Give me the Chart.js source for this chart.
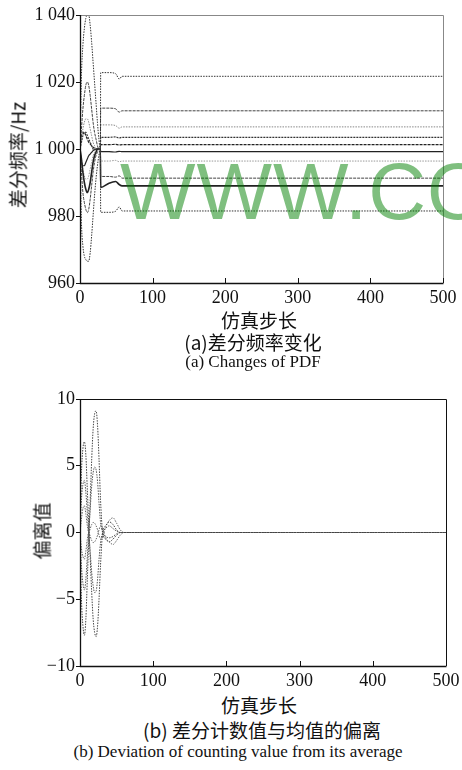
<!DOCTYPE html>
<html>
<head>
<meta charset="utf-8">
<script src="https://cdn.jsdelivr.net/npm/chart.js@4.4.1/dist/chart.umd.min.js"></script>
<style>
  body { margin:0; width:462px; height:770px; position:relative; overflow:hidden; background:#fff; }
  .box { position:absolute; left:0; width:462px; }
  .txt { position:absolute; white-space:nowrap; transform:translate(-50%,-50%); color:#111; }
  .cjk { font-family:"Noto Sans CJK SC", sans-serif; font-size:19px; }
  .en { font-family:"Liberation Serif", serif; font-size:17px; }
  #mark { position:absolute; left:120px; top:152px; font-family:"Liberation Sans", sans-serif;
          font-size:80px; line-height:80px; color:rgba(0,128,0,0.5); letter-spacing:1px; white-space:nowrap; z-index:5; }
</style>
</head>
<body>
<div class="box" style="top:0;height:310px"><canvas id="chartA"></canvas></div>
<div class="box" style="top:385px;height:305px"><canvas id="chartB"></canvas></div>

<div class="txt cjk" style="left:17px;top:155px;transform:translate(-50%,-50%) rotate(-90deg)">差分频率/Hz</div>
<div class="txt cjk" style="left:259px;top:319px">仿真步长</div>
<div class="txt cjk" style="left:253px;top:341px">(a)差分频率变化</div>
<div class="txt en" style="left:253px;top:362px">(a) Changes of PDF</div>

<div class="txt cjk" style="left:41px;top:531px;transform:translate(-50%,-50%) rotate(-90deg)">偏离值</div>
<div class="txt cjk" style="left:259px;top:704px">仿真步长</div>
<div class="txt cjk" style="left:262px;top:729px">(b) 差分计数值与均值的偏离</div>
<div class="txt en" style="left:238px;top:752px">(b) Deviation of counting value from its average</div>

<div id="mark">WWW.CO</div>

<script>
// (a) 差分频率 — simulation steps and values per node
const stepsA = [0, 2, 4, 6, 8, 10, 12, 14, 16, 18, 20, 22, 24, 26, 28, 28.5, 40, 49, 54, 58, 500];
const pdf1  = [1000, 1022, 1031, 1036, 1039, 1040, 1040, 1037, 1032, 1026, 1020, 1014, 1008, 1003, 1000, 1022.8, 1022.8, 1022.5, 1020.9, 1021.7, 1021.7];
const pdf2  = [1000, 978, 971, 968, 967, 966.5, 966.5, 969, 974, 980, 986, 991, 995, 998, 1000, 981.1, 981.1, 981.4, 982.7, 981.5, 981.5];
const pdf3  = [1000, 1006, 1012, 1016, 1019, 1020, 1019, 1016, 1012, 1008, 1005, 1003, 1001, 1000, 1000, 1012.2, 1012.2, 1012, 1011, 1011.4, 1011.4];
const pdf4  = [1000, 993, 987, 984, 982, 981, 982, 985, 989, 993, 996, 998, 999, 1000, 1000, 991.8, 991.8, 991.6, 992, 991.3, 991.3];
const pdf5  = [1000, 997, 993, 990, 988, 987, 988, 990, 993, 996, 998, 999, 1000, 1000, 1000, 988.5, 989.8, 990.3, 989.4, 989, 989];
const pdf6  = [1000, 1003, 1006, 1008, 1009, 1009, 1008, 1006, 1004, 1002, 1001, 1000, 1000, 1000, 1000, 1007.2, 1007.2, 1007, 1006.2, 1006.6, 1006.6];
const pdf7  = [1000, 1002, 1004, 1005, 1005, 1004, 1003, 1002, 1001, 1000, 1000, 1000, 1000, 1000, 1000, 1003.5, 1003.5, 1003.6, 1003.3, 1003.5, 1003.5];
const pdf8  = [1001, 1004, 1005, 1005, 1004, 1003, 1002, 1001.5, 1001, 1000.5, 1000.3, 1000, 1000, 1000, 1000, 1001.3, 1001.3, 1001.4, 1001.2, 1001.3, 1001.3];
const pdf9  = [999, 996, 995, 995, 996, 997, 998, 998.5, 999, 999.5, 999.8, 1000, 1000, 1000, 1000, 999.2, 999.2, 999.1, 999.3, 999.2, 999.2];
const pdf10 = [1000, 997, 994, 992, 991, 991, 992, 994, 996, 998, 999, 1000, 1000, 1000, 1000, 996.4, 996.4, 996.6, 996.2, 996.4, 996.4];
const ticksA = [960, 980, 1000, 1020, 1040];

// (b) 偏离值 — deviation of counting value from its average
const stepsB = [0, 2, 4, 6, 8, 10, 12, 14, 16, 18, 20, 22, 24, 26, 28, 31, 35, 40, 45, 50, 55, 60, 500];
const dev1 = [0, 4.5, 6.3, 6.8, 5.8, 3.2, 0.5, -2, -4.5, -6.5, -7.5, -7.8, -7, -5, -2.5, 0, 0.5, 0.8, 0.6, 0.2, 0, 0, 0];
const dev2 = [0, -5, -7, -7.7, -6.5, -3.5, -0.5, 2.5, 5.5, 7.8, 8.9, 9.1, 8, 5.5, 2.5, 0, -0.5, -0.7, -0.5, -0.2, 0, 0, 0];
const dev3 = [0, 2.5, 3.6, 3.9, 3, 1.5, 0, -1.5, -3, -4, -4.5, -4.4, -3.5, -2, -0.8, 0, 0.3, 0.5, 0.3, 0.1, 0, 0, 0];
const dev4 = [0, -2.5, -3.8, -4.3, -3.5, -1.8, 0, 1.8, 3.5, 4.5, 4.9, 4.7, 3.8, 2.2, 0.8, 0, -0.3, -0.4, -0.3, -0.1, 0, 0, 0];
const dev5 = [0, 1, 1.8, 2, 1.4, 0.5, 0, 0.3, 0.6, 0.75, 0.7, 0.5, 0.2, -0.2, -0.5, -0.3, 0.4, 0.9, 1.1, 0.7, 0.2, 0, 0];
const dev6 = [0, -1.2, -1.8, -2, -1.4, -0.5, 0, -0.3, -0.6, -0.75, -0.7, -0.5, -0.2, 0.2, 0.5, 0.3, -0.4, -0.7, -0.9, -0.6, -0.2, 0, 0];
const ticksB = [-10, -5, 0, 5, 10];

const xTicks = [0, 100, 200, 300, 400, 500];

function pts(xs, ys) {
    return xs.map((x, i) => ({x: x, y: ys[i]}));
}

function line(xs, ys, color, width, dash) {
    return {
        data: pts(xs, ys),
        borderColor: color,
        borderWidth: width,
        borderDash: dash,
        pointRadius: 0,
        cubicInterpolationMode: 'monotone',
        fill: false
    };
}

// box round the plot and inward x ticks
const framePlugin = {
    id: 'frame',
    afterDatasetsDraw(chart, args, opts) {
        const ctx = chart.ctx;
        const a = chart.chartArea;
        const x = chart.scales.x;
        ctx.save();
        ctx.lineWidth = 1;
        ctx.strokeStyle = opts.farColor;
        ctx.beginPath();
        ctx.moveTo(a.left, a.top + 0.5);
        ctx.lineTo(a.right + 0.5, a.top + 0.5);
        ctx.lineTo(a.right + 0.5, a.bottom);
        ctx.stroke();
        ctx.strokeStyle = '#111';
        ctx.lineWidth = 1.3;
        ctx.beginPath();
        ctx.moveTo(a.left + 0.5, a.top);
        ctx.lineTo(a.left + 0.5, a.bottom + 0.5);
        ctx.lineTo(a.right + 0.5, a.bottom + 0.5);
        ctx.stroke();
        ctx.lineWidth = 1;
        x.ticks.forEach(t => {
            const px = Math.round(x.getPixelForValue(t.value)) + 0.5;
            ctx.beginPath();
            ctx.moveTo(px, a.bottom);
            ctx.lineTo(px, a.bottom - 5);
            ctx.stroke();
        });
        ctx.restore();
    }
};

const tickFont = {family: 'Liberation Serif', size: 18};

function makeChart(id, datasets, yMin, yMax, yTicks, yFmt, pad, xHeight, farColor) {
    return new Chart(document.getElementById(id), {
        type: 'line',
        data: {datasets: datasets},
        options: {
            responsive: true,
            maintainAspectRatio: false,
            animation: false,
            layout: {padding: pad},
            plugins: {
                legend: {display: false},
                tooltip: {enabled: false},
                frame: {farColor: farColor}
            },
            scales: {
                x: {
                    type: 'linear',
                    min: 0,
                    max: 500,
                    afterBuildTicks: s => { s.ticks = xTicks.map(v => ({value: v})); },
                    afterFit: s => { s.height = xHeight; },
                    grid: {display: false},
                    border: {display: false},
                    ticks: {color: '#111', font: tickFont, padding: -4, maxRotation: 0}
                },
                y: {
                    min: yMin,
                    max: yMax,
                    afterBuildTicks: s => { s.ticks = yTicks.map(v => ({value: v})); },
                    afterFit: s => { s.width = 80; },
                    grid: {drawOnChartArea: false, tickLength: 4, tickColor: '#111'},
                    border: {display: false},
                    ticks: {color: '#111', font: tickFont, padding: 1, callback: yFmt}
                }
            }
        },
        plugins: [framePlugin]
    });
}

const dot = [1.5, 1.2];
const dsA = [
    line(stepsA, pdf1, '#333', 1, dot),
    line(stepsA, pdf2, '#333', 1, dot),
    line(stepsA, pdf3, '#444', 1, [3, 1]),
    line(stepsA, pdf4, '#444', 1, [3, 1]),
    line(stepsA, pdf5, '#222', 1.6, []),
    line(stepsA, pdf6, '#888', 1, dot),
    line(stepsA, pdf7, '#333', 1.2, [2, 1]),
    line(stepsA, pdf8, '#222', 1.2, [3, 1]),
    line(stepsA, pdf9, '#222', 1.2, []),
    line(stepsA, pdf10, '#999', 1, dot)
];

const dsB = [
    line(stepsB, dev1, '#444', 1, dot),
    line(stepsB, dev2, '#444', 1, dot),
    line(stepsB, dev3, '#555', 1, dot),
    line(stepsB, dev4, '#555', 1, dot),
    line(stepsB, dev5, '#666', 1, dot),
    line(stepsB, dev6, '#666', 1, dot)
];

makeChart('chartA', dsA, 960, 1040, ticksA,
    v => v >= 1000 ? '1 ' + String(v).slice(1) : String(v),
    {left: 0, top: 15, right: 19, bottom: 0}, 27, '#888');

makeChart('chartB', dsB, -10, 10, ticksB,
    v => String(v).replace('-', '\u2212'),
    {left: 0, top: 14, right: 16, bottom: 0}, 24, '#111');
</script>
</body>
</html>
